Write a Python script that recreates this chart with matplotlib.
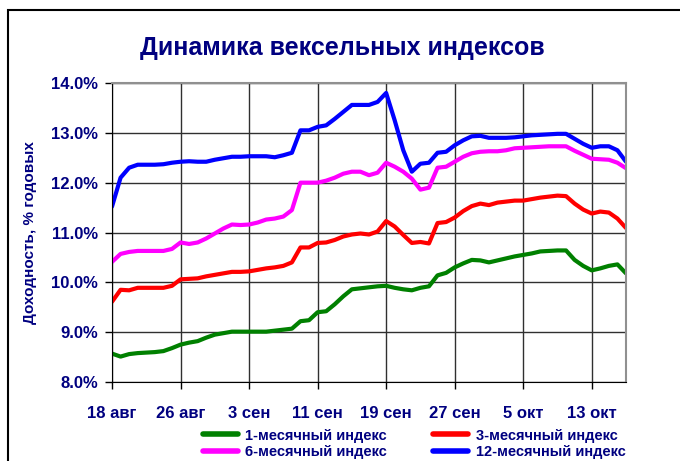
import numpy as np
import matplotlib
matplotlib.use("Agg")
import matplotlib.pyplot as plt
from matplotlib.patches import Rectangle

plt.rcParams['font.family'] = ['Liberation Sans', 'DejaVu Sans']
plt.rcParams['font.weight'] = 'bold'

NAVY = '#000080'

# daily observations, 18 Aug .. 17 Oct
tick_labels = ["18 авг", "26 авг", "3 сен", "11 сен", "19 сен", "27 сен", "5 окт", "13 окт"]

idx_1m = [8.57, 8.51, 8.56, 8.58, 8.59, 8.60, 8.62, 8.68, 8.75, 8.79,
          8.82, 8.89, 8.95, 8.98, 9.01, 9.01, 9.01, 9.01, 9.01, 9.03,
          9.05, 9.07, 9.22, 9.24, 9.40, 9.42, 9.56, 9.72, 9.86, 9.88,
          9.90, 9.92, 9.93, 9.89, 9.86, 9.84, 9.89, 9.92, 10.14, 10.19,
          10.30, 10.38, 10.45, 10.44, 10.40, 10.44, 10.48, 10.52, 10.55, 10.58,
          10.62, 10.63, 10.64, 10.64, 10.45, 10.33, 10.24, 10.28, 10.33, 10.36,
          10.18]
idx_3m = [9.61, 9.85, 9.84, 9.89, 9.89, 9.89, 9.89, 9.93, 10.06, 10.07,
          10.08, 10.12, 10.15, 10.18, 10.21, 10.21, 10.22, 10.25, 10.28, 10.30,
          10.33, 10.40, 10.70, 10.70, 10.79, 10.80, 10.85, 10.92, 10.96, 10.98,
          10.96, 11.02, 11.23, 11.12, 10.95, 10.79, 10.81, 10.78, 11.19, 11.21,
          11.30, 11.43, 11.53, 11.58, 11.55, 11.60, 11.62, 11.64, 11.64, 11.67,
          11.70, 11.72, 11.74, 11.73, 11.58, 11.46, 11.38, 11.42, 11.40, 11.28,
          11.09]
idx_6m = [10.41, 10.57, 10.61, 10.63, 10.63, 10.63, 10.63, 10.67, 10.80, 10.77,
          10.80, 10.88, 10.98, 11.08, 11.16, 11.15, 11.16, 11.20, 11.26, 11.28,
          11.32, 11.45, 12.00, 12.00, 12.00, 12.04, 12.10, 12.18, 12.22, 12.22,
          12.15, 12.20, 12.40, 12.32, 12.22, 12.08, 11.86, 11.90, 12.30, 12.32,
          12.42, 12.52, 12.59, 12.62, 12.63, 12.63, 12.65, 12.69, 12.70, 12.71,
          12.72, 12.73, 12.73, 12.73, 12.64, 12.56, 12.48, 12.47, 12.46, 12.40,
          12.29]
idx_12m = [11.52, 12.10, 12.30, 12.36, 12.36, 12.36, 12.37, 12.40, 12.42, 12.43,
           12.42, 12.42, 12.46, 12.49, 12.52, 12.52, 12.53, 12.53, 12.53, 12.51,
           12.55, 12.60, 13.05, 13.05, 13.12, 13.15, 13.28, 13.42, 13.56, 13.56,
           13.56, 13.62, 13.80, 13.25, 12.65, 12.22, 12.38, 12.40, 12.60, 12.62,
           12.75, 12.85, 12.93, 12.94, 12.90, 12.90, 12.90, 12.91, 12.93, 12.95,
           12.96, 12.97, 12.98, 12.98, 12.88, 12.78, 12.70, 12.73, 12.73, 12.65,
           12.42]

series = [
    ("1-месячный индекс", idx_1m, '#008000'),
    ("6-месячный индекс", idx_6m, '#FF00FF'),
    ("3-месячный индекс", idx_3m, '#FF0000'),
    ("12-месячный индекс", idx_12m, '#0000FF'),
]

fig = plt.figure(figsize=(6.8, 4.61), dpi=100)
ax = fig.add_axes([112 / 680, 1 - 382 / 461, 514 / 680, 299 / 461])

x = np.arange(len(idx_1m))
for name, vals, col in series:
    ax.plot(x, vals, color=col, lw=3, label=name, solid_capstyle='round')

ax.set_xlim(0, 60)
ax.set_ylim(8, 14)
ax.set_xticks(np.arange(0, 57, 8))
ax.set_xticklabels(tick_labels)
ax.set_yticks(np.arange(8, 14.01, 1))
ax.set_yticklabels([f"{v:.1f}%" for v in np.arange(8, 14.01, 1)])
ax.grid(True, color='#303030', lw=1)
ax.tick_params(axis='both', direction='out', length=5, width=1, color='black',
               labelsize=12, labelcolor=NAVY)
ax.tick_params(axis='x', pad=12)
ax.tick_params(axis='y', pad=5)
for s in ('top', 'right'):
    ax.spines[s].set_color('#909090')
    ax.spines[s].set_linewidth(1.5)
for s in ('left', 'bottom'):
    ax.spines[s].set_color('black')

ax.set_ylabel("Доходность, % годовых", color=NAVY, fontsize=11, fontweight='bold', labelpad=10)

fig.text(342 / 680, 1 - 48 / 461, "Динамика вексельных индексов", color=NAVY,
         fontsize=18, fontweight='bold', ha='center', va='center')

leg = fig.legend(loc='center', bbox_to_anchor=(414 / 680, 1 - 444 / 461), ncol=2,
                 frameon=False, fontsize=10.5, handlelength=2.4, columnspacing=3.2,
                 labelspacing=0.2, handletextpad=0.5, borderpad=0.1)
for t in leg.get_texts():
    t.set_color(NAVY)
    t.set_fontweight('bold')
for h in leg.get_lines():
    h.set_linewidth(4)

fig.add_artist(Rectangle((8 / 680, -0.1), 2, 1.1 - 10 / 461, transform=fig.transFigure,
                         fill=False, edgecolor='black', lw=1.5))

fig.savefig("out.png", dpi=100)
